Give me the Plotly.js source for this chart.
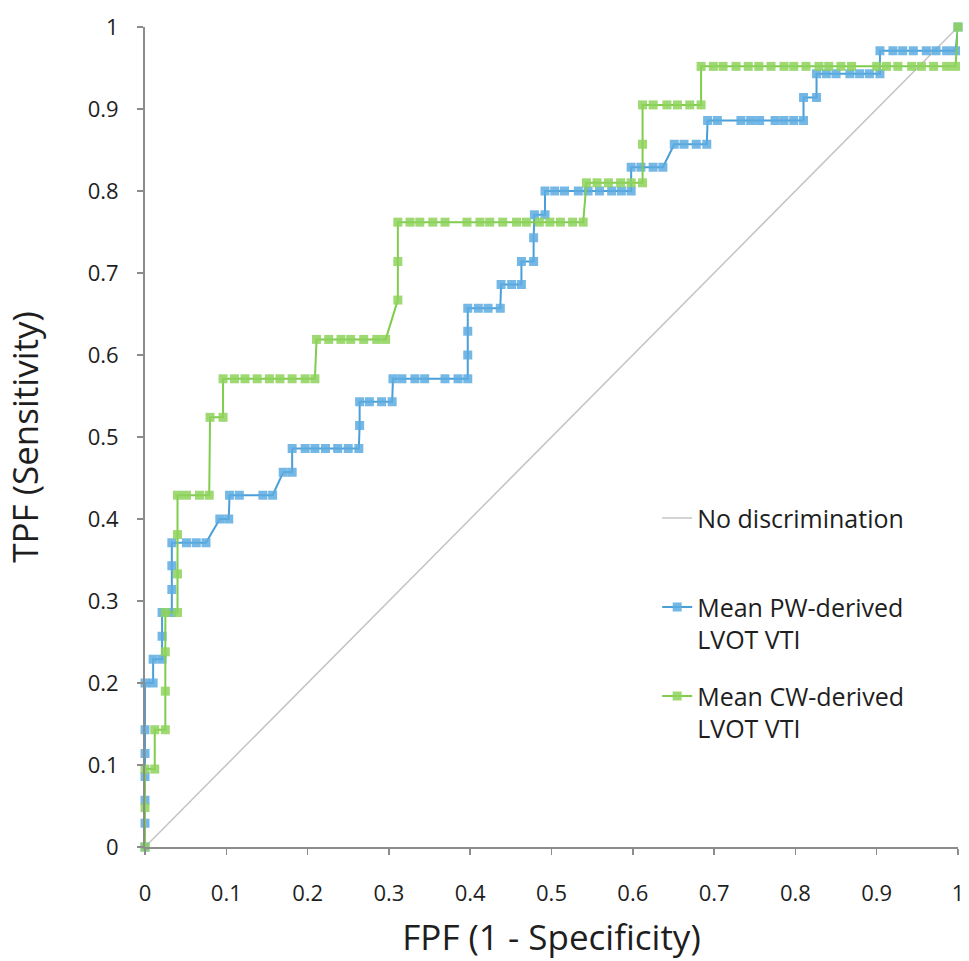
<!DOCTYPE html>
<html>
<head>
<meta charset="utf-8">
<script src="https://cdn.plot.ly/plotly-3.0.1.min.js"></script>
<style>html,body{margin:0;padding:0;background:#fff;}#chart{width:969px;height:961px;}</style>
</head>
<body>
<div id="chart"></div>
<script>
// Reference (no discrimination) line
const refX = [0, 1];
const refY = [0, 1];

// Mean PW-derived LVOT VTI (FPF, TPF)
const pwFPF = [0,0,0,0,0,0,0,0.01,0.01,0.021,0.021,0.021,0.033,0.033,0.033,0.033,0.051,0.063,0.075,
  0.092,0.103,0.104,0.116,0.145,0.157,0.17,0.181,0.181,0.197,0.209,0.222,0.237,0.25,0.263,
  0.264,0.264,0.276,0.291,0.304,0.305,0.316,0.332,0.344,0.369,0.385,0.397,0.397,0.397,0.397,
  0.41,0.422,0.437,0.438,0.451,0.463,0.463,0.478,0.478,0.479,0.492,0.492,0.504,0.516,0.533,
  0.545,0.559,0.574,0.586,0.598,0.598,0.61,0.625,0.637,0.651,0.663,0.678,0.691,0.692,0.704,
  0.733,0.745,0.756,0.775,0.786,0.798,0.81,0.81,0.826,0.826,0.838,0.85,0.867,0.879,0.891,
  0.904,0.904,0.92,0.932,0.945,0.961,0.973,0.986,0.997,1];
const pwTPF = [0,0.029,0.057,0.086,0.114,0.143,0.2,0.2,0.229,0.229,0.257,0.286,0.286,0.314,0.343,0.371,0.371,0.371,0.371,
  0.4,0.4,0.429,0.429,0.429,0.429,0.457,0.457,0.486,0.486,0.486,0.486,0.486,0.486,0.486,
  0.514,0.543,0.543,0.543,0.543,0.571,0.571,0.571,0.571,0.571,0.571,0.571,0.6,0.629,0.657,
  0.657,0.657,0.657,0.686,0.686,0.686,0.714,0.714,0.743,0.771,0.771,0.8,0.8,0.8,0.8,
  0.8,0.8,0.8,0.8,0.8,0.829,0.829,0.829,0.829,0.857,0.857,0.857,0.857,0.886,0.886,
  0.886,0.886,0.886,0.886,0.886,0.886,0.886,0.914,0.914,0.943,0.943,0.943,0.943,0.943,0.943,
  0.943,0.971,0.971,0.971,0.971,0.971,0.971,0.971,0.971,1];

// Mean CW-derived LVOT VTI (FPF, TPF)
const cwFPF = [0,0,0,0.012,0.012,0.025,0.025,0.025,0.025,0.04,0.04,0.04,0.04,0.051,0.067,0.079,
  0.08,0.096,0.096,0.11,0.123,0.138,0.153,0.166,0.181,0.197,0.209,0.211,0.226,0.241,0.253,
  0.269,0.285,0.296,0.311,0.311,0.311,0.326,0.338,0.354,0.369,0.396,0.412,0.424,0.44,0.457,
  0.469,0.485,0.498,0.511,0.526,0.539,0.543,0.556,0.57,0.585,0.598,0.612,0.612,0.612,0.625,
  0.642,0.655,0.67,0.684,0.684,0.699,0.711,0.727,0.742,0.755,0.77,0.786,0.798,0.813,0.829,
  0.841,0.856,0.869,0.9,0.912,0.926,0.943,0.955,0.97,0.986,0.997,1];
const cwTPF = [0,0.048,0.095,0.095,0.143,0.143,0.19,0.238,0.286,0.286,0.333,0.381,0.429,0.429,0.429,0.429,
  0.524,0.524,0.571,0.571,0.571,0.571,0.571,0.571,0.571,0.571,0.571,0.619,0.619,0.619,0.619,
  0.619,0.619,0.619,0.667,0.714,0.762,0.762,0.762,0.762,0.762,0.762,0.762,0.762,0.762,0.762,
  0.762,0.762,0.762,0.762,0.762,0.762,0.81,0.81,0.81,0.81,0.81,0.81,0.857,0.905,0.905,
  0.905,0.905,0.905,0.905,0.952,0.952,0.952,0.952,0.952,0.952,0.952,0.952,0.952,0.952,0.952,
  0.952,0.952,0.952,0.952,0.952,0.952,0.952,0.952,0.952,0.952,0.952,1];

const seriesNames = ['No discrimination', 'Mean PW-derived<br>LVOT VTI', 'Mean CW-derived<br>LVOT VTI'];
const xTitle = 'FPF (1 - Specificity)';
const yTitle = 'TPF (Sensitivity)';

const FONT = '"Open Sans", Lato, sans-serif';
const axisCommon = {
  range: [0, 1], dtick: 0.1, tick0: 0,
  showgrid: false, zeroline: false,
  showline: true, linecolor: '#8c8c8c', linewidth: 2,
  ticks: 'outside', ticklen: 6, tickwidth: 1.5, tickcolor: '#8c8c8c',
  tickfont: {family: FONT, size: 22, color: '#1e1e1e'},
  fixedrange: true
};

const traces = [
  {x: refX, y: refY, mode: 'lines', name: seriesNames[0] + '<br> ', legendgroup: 'a',
   line: {color: '#c4c4c4', width: 1.5}, cliponaxis: false},
  {x: pwFPF, y: pwTPF, mode: 'lines+markers', name: seriesNames[1], legendgroup: 'b',
   line: {color: '#4a9fd9', width: 2},
   marker: {symbol: 'square', size: 9, color: 'rgba(93,172,224,0.85)'}, cliponaxis: false},
  {x: cwFPF, y: cwTPF, mode: 'lines+markers', name: seriesNames[2], legendgroup: 'c',
   line: {color: '#80cc4c', width: 2},
   marker: {symbol: 'square', size: 9, color: 'rgba(142,210,92,0.85)'}, cliponaxis: false}
];

const layout = {
  width: 969, height: 961,
  margin: {l: 145, r: 11, t: 27, b: 114},
  paper_bgcolor: '#fff', plot_bgcolor: '#fff',
  font: {family: FONT, color: '#1e1e1e'},
  showlegend: true,
  legend: {
    x: 0.63, y: 0.429, xanchor: 'left', yanchor: 'top',
    font: {family: FONT, size: 25, color: '#1e1e1e'},
    valign: 'top', traceorder: 'grouped', tracegroupgap: 21,
    bgcolor: 'rgba(0,0,0,0)'
  },
  xaxis: Object.assign({}, axisCommon, {
    title: {text: xTitle, font: {family: FONT, size: 35, color: '#1e1e1e'}, standoff: 19},
    ticklabelstandoff: 20
  }),
  yaxis: Object.assign({}, axisCommon, {
    title: {text: yTitle, font: {family: FONT, size: 35, color: '#1e1e1e'}, standoff: 38},
    ticklabelstandoff: 14
  })
};

Plotly.newPlot('chart', traces, layout, {displayModeBar: false, staticPlot: true});
</script>
</body>
</html>
